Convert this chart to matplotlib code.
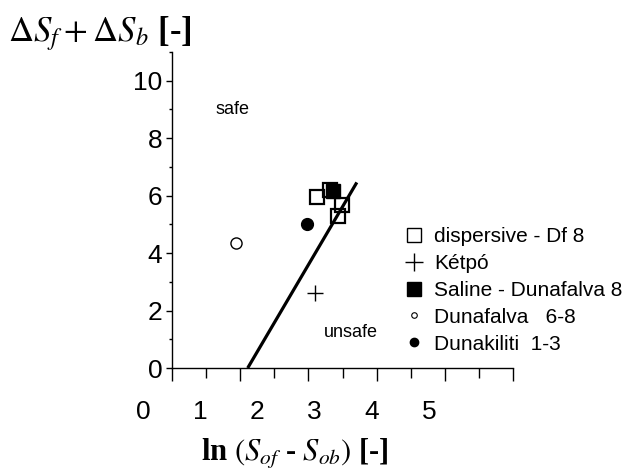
import numpy as np
import matplotlib
matplotlib.use("Agg")
import matplotlib.pyplot as plt
from matplotlib.lines import Line2D
from matplotlib.ticker import MultipleLocator, NullFormatter

plt.rcParams['font.family'] = ['Liberation Sans', 'DejaVu Sans']
plt.rcParams['mathtext.fontset'] = 'stix'

# data (x = ln(Sof - Sob), y = dSf + dSb)
disp_x = [2.13, 2.32, 2.49, 2.43]
disp_y = [5.94, 6.20, 5.66, 5.28]
ketpo_x = [2.10]
ketpo_y = [2.60]
saline_x = [2.36]
saline_y = [6.15]
dunafalva_x = [0.94]
dunafalva_y = [4.34]
dunakiliti_x = [1.98]
dunakiliti_y = [5.03]
# boundary line safe / unsafe
line_x = [1.11, 2.71]
line_y = [0.0, 6.46]

xtick_labels = [0, 1, 2, 3, 4, 5]
ytick_values = [0, 2, 4, 6, 8, 10]

W, H = 625, 474
fig = plt.figure(figsize=(W / 100, H / 100), dpi=100)

# main axes (pixel box 172..513 x 52..368)
ax = fig.add_axes([172 / W, 1 - 368 / H, (513 - 172) / W, (368 - 52) / H])
ax.set_xlim(0, 5)
ax.set_ylim(0, 11)
for s in ['top', 'right']:
    ax.spines[s].set_visible(False)
for s in ['left', 'bottom']:
    ax.spines[s].set_linewidth(1.0)

ax.xaxis.set_major_locator(MultipleLocator(1))
ax.xaxis.set_minor_locator(MultipleLocator(0.5))
ax.xaxis.set_major_formatter(NullFormatter())
ax.tick_params(axis='x', which='major', direction='out', length=9.5, width=1.0)
ax.tick_params(axis='x', which='minor', direction='out', length=7.5, width=1.0)

ax.set_yticks(ytick_values)
ax.yaxis.set_minor_locator(MultipleLocator(1))
ax.tick_params(axis='y', which='major', direction='out', length=4.5, width=1.0,
               labelsize=19, pad=2.5)
ax.tick_params(axis='y', which='minor', direction='out', length=2, width=1.0)

ax.plot(line_x, line_y, color='black', lw=2.3, solid_capstyle='butt')
ax.plot(disp_x, disp_y, ls='none', marker='s', ms=10, mfc='none', mec='black', mew=1.6)
ax.plot(saline_x, saline_y, ls='none', marker='s', ms=10.5, mfc='black', mec='black')
ax.plot(ketpo_x, ketpo_y, ls='none', marker='+', ms=11, mec='black', mew=1.0)
ax.plot(dunafalva_x, dunafalva_y, ls='none', marker='o', ms=8, mfc='white', mec='black', mew=1.0)
ax.plot(dunakiliti_x, dunakiliti_y, ls='none', marker='o', ms=8.5, mfc='black', mec='black')

ax.text(0.88, 9.0, 'safe', fontsize=13, ha='center', va='center')
ax.text(2.62, 1.25, 'unsafe', fontsize=13, ha='center', va='center')

# x tick labels sit on their own scale (pixel 143 .. 429)
axl = fig.add_axes([143 / W, 1 - 368 / H, (429 - 143) / W, (368 - 52) / H])
axl.set_xlim(0, 5)
axl.set_xticks(xtick_labels)
axl.set_xticklabels([str(v) for v in xtick_labels])
axl.tick_params(axis='x', length=0, labelsize=19, pad=23)
axl.set_yticks([])
axl.patch.set_visible(False)
for s in axl.spines.values():
    s.set_visible(False)

handles = [
    Line2D([], [], ls='none', marker='s', ms=10, mfc='none', mec='black', mew=1.0),
    Line2D([], [], ls='none', marker='+', ms=13, mec='black', mew=1.0),
    Line2D([], [], ls='none', marker='s', ms=10, mfc='black', mec='black'),
    Line2D([], [], ls='none', marker='o', ms=4, mfc='white', mec='black', mew=0.8),
    Line2D([], [], ls='none', marker='o', ms=6, mfc='black', mec='black'),
]
labels = ['dispersive - Df 8', 'Kétpó', 'Saline - Dunafalva 8',
          'Dunafalva   6-8', 'Dunakiliti  1-3']
fig.legend(handles, labels, loc='upper left', bbox_to_anchor=(404 / W, 1 - 227 / H),
           frameon=False, fontsize=15, handlelength=1.0, handletextpad=0.45,
           labelspacing=0.38, borderpad=0, borderaxespad=0)

fig.text(8 / W, 1 - 34 / H, r'$\Delta S_f + \Delta S_b$ [-]', fontsize=25,
         family='Liberation Serif', fontweight='bold', ha='left', va='center')
fig.text(295 / W, 1 - 454 / H, r'ln $(S_{of}$ - $S_{ob})$ [-]',
         fontsize=22, family='Liberation Serif', fontweight='bold',
         ha='center', va='center')

fig.savefig('out.png', dpi=100)
